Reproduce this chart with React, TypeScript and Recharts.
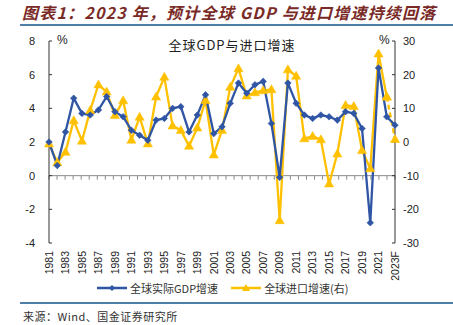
import React from 'react';
import { LineChart, Line, XAxis, YAxis, ReferenceLine } from 'recharts';

const years = [
  '1981', '1982', '1983', '1984', '1985', '1986', '1987', '1988', '1989', '1990',
  '1991', '1992', '1993', '1994', '1995', '1996', '1997', '1998', '1999', '2000',
  '2001', '2002', '2003', '2004', '2005', '2006', '2007', '2008', '2009', '2010',
  '2011', '2012', '2013', '2014', '2015', '2016', '2017', '2018', '2019', '2020',
  '2021', '2022', '2023F',
];

const gdpGrowth = [
  2.0, 0.6, 2.6, 4.6, 3.7, 3.6, 3.9, 4.7, 3.8, 3.5,
  2.7, 2.4, 2.1, 3.3, 3.4, 4.0, 4.1, 2.6, 3.6, 4.8,
  2.5, 2.9, 4.3, 5.5, 4.9, 5.4, 5.6, 3.1, -0.1, 5.5,
  4.3, 3.6, 3.4, 3.6, 3.5, 3.3, 3.8, 3.7, 2.8, -2.8,
  6.4, 3.5, 3.0,
];

const importGrowth = [
  -0.5, -6.1, -3.0, 6.4, 0.3, 9.4, 17.0, 14.9, 7.9, 12.3,
  0.6, 7.4, -0.5, 13.4, 19.3, 4.8, 3.5, -1.2, 4.2, 12.4,
  -3.8, 3.5, 16.3, 21.8, 13.7, 14.7, 15.3, 15.6, -23.3, 21.5,
  19.6, 1.0, 1.7, 0.7, -12.4, -3.5, 10.9, 10.6, -2.5, -7.9,
  26.2, 13.4, 0.8,
];

const forecastFrom = 41; // dashed segment starts at 2022
const leftTicks = [-4, -2, 0, 2, 4, 6, 8];
const rightTicks = [-30, -20, -10, 0, 10, 20, 30];

const BLUE = '#2F55A4';
const YELLOW = '#FFC000';
const TEXT = '#222';
const RULE = '#4F7FA8';
const FONT_LATIN = '"Liberation Sans", Arial, sans-serif';
const FONT_CJK = '"Noto Sans CJK SC", "Liberation Sans", sans-serif';

const data = years.map((year, i) => ({
  year,
  gdp: gdpGrowth[i],
  imp: i <= forecastFrom ? importGrowth[i] : null,
  impF: i >= forecastFrom ? importGrowth[i] : null,
}));

const Diamond = (props: any) => {
  const { cx, cy, index } = props;
  if (cx == null || cy == null) return <g key={`d${index}`} />;
  const s = 3.3;
  return (
    <path
      key={`d${index}`}
      d={`M${cx},${cy - s}L${cx + s},${cy}L${cx},${cy + s}L${cx - s},${cy}Z`}
      fill={BLUE}
      stroke={BLUE}
      strokeWidth={0.6}
    />
  );
};

const Triangle = (props: any) => {
  const { cx, cy, index } = props;
  if (cx == null || cy == null) return <g key={`t${index}`} />;
  const w = 4.6;
  const h = 8;
  return (
    <path
      key={`t${index}`}
      d={`M${cx},${cy - h * 0.6}L${cx + w},${cy + h * 0.4}L${cx - w},${cy + h * 0.4}Z`}
      fill={YELLOW}
      stroke={YELLOW}
      strokeWidth={0.5}
    />
  );
};

const XTick = (props: any) => {
  const { x, y, payload } = props;
  return (
    <text
      x={x}
      y={y}
      transform={`rotate(-90, ${x}, ${y})`}
      textAnchor="end"
      dy="0.36em"
      fontSize={10.5}
      fill={TEXT}
      fontFamily={FONT_LATIN}
    >
      {payload.value}
    </text>
  );
};

const ZeroAxis = (props: any) => {
  const { x1, x2, y1 } = props;
  if (x1 == null || x2 == null || y1 == null) return <g />;
  const n = years.length;
  const step = (x2 - x1) / n;
  return (
    <g>
      <line x1={x1} x2={x2} y1={y1} y2={y1} stroke="#8a8a8a" strokeWidth={1} />
      {Array.from({ length: n + 1 }, (_, k) => (
        <line
          key={k}
          x1={x1 + k * step}
          x2={x1 + k * step}
          y1={y1}
          y2={y1 + 4}
          stroke="#8a8a8a"
          strokeWidth={1}
        />
      ))}
    </g>
  );
};

const LegendItem = ({ color, marker, label }: { color: string; marker: 'diamond' | 'triangle'; label: string }) => (
  <div style={{ display: 'flex', alignItems: 'center' }}>
    <svg width={32} height={10} style={{ display: 'block' }}>
      <line x1={1} x2={31} y1={5} y2={5} stroke={color} strokeWidth={2.5} />
      {marker === 'diamond' ? (
        <path d="M16,2L19,5L16,8L13,5Z" fill={color} />
      ) : (
        <path d="M16,1L20,8L12,8Z" fill={color} />
      )}
    </svg>
    <span style={{ marginLeft: 2, fontSize: 11, color: '#333', fontFamily: FONT_CJK, whiteSpace: 'nowrap' }}>{label}</span>
  </div>
);

export default function App() {
  return (
    <div
      style={{
        position: 'absolute',
        left: 0,
        top: 0,
        width: 453,
        height: 325,
        background: '#fff',
        overflow: 'hidden',
      }}
    >
      <div
        style={{
          position: 'absolute',
          left: 22,
          top: 2,
          fontSize: 16,
          fontWeight: 'bold',
          fontStyle: 'italic',
          color: '#7A2A26',
          fontFamily: FONT_CJK,
          whiteSpace: 'nowrap',
          lineHeight: '20px',
          letterSpacing: 1.2,
        }}
      >
        图表1：2023 年，预计全球 GDP 与进口增速持续回落
      </div>
      <div style={{ position: 'absolute', left: 20, top: 24, width: 433, height: 2, background: RULE }} />

      <div style={{ position: 'absolute', left: 0, top: 0 }}>
        <LineChart
          width={453}
          height={325}
          data={data}
          margin={{ top: 41, right: 0, bottom: 0, left: 0 }}
        >
          <XAxis
            dataKey="year"
            xAxisId={0}
            interval={1}
            tick={<XTick />}
            tickLine={false}
            axisLine={false}
            tickSize={0}
            tickMargin={8}
            height={82}
          />
          <YAxis
            yAxisId="left"
            domain={[-4, 8]}
            ticks={leftTicks}
            width={49}
            axisLine={{ stroke: '#333', strokeWidth: 1 }}
            tickLine={{ stroke: '#333' }}
            tickSize={-3}
            tickMargin={17}
            tick={{ fontSize: 11, fill: TEXT, fontFamily: FONT_LATIN }}
            allowDataOverflow
          />
          <YAxis
            yAxisId="right"
            orientation="right"
            domain={[-30, 30]}
            ticks={rightTicks}
            width={58}
            axisLine={{ stroke: '#333', strokeWidth: 1 }}
            tickLine={{ stroke: '#333' }}
            tickSize={-3}
            tickMargin={11}
            tick={{ fontSize: 11, fill: TEXT, fontFamily: FONT_LATIN }}
            allowDataOverflow
          />
          <ReferenceLine yAxisId="left" y={0} shape={<ZeroAxis />} />
          <Line
            yAxisId="right"
            dataKey="imp"
            stroke={YELLOW}
            strokeWidth={2.3}
            dot={<Triangle />}
            activeDot={false}
            isAnimationActive={false}
            connectNulls={false}
          />
          <Line
            yAxisId="right"
            dataKey="impF"
            stroke={YELLOW}
            strokeWidth={2.3}
            strokeDasharray="5 3"
            dot={<Triangle />}
            activeDot={false}
            legendType="none"
            isAnimationActive={false}
          />
          <Line
            yAxisId="left"
            dataKey="gdp"
            stroke={BLUE}
            strokeWidth={2.3}
            dot={<Diamond />}
            activeDot={false}
            isAnimationActive={false}
          />
        </LineChart>
      </div>

      <div style={{ position: 'absolute', left: 57, top: 33, fontSize: 12, color: TEXT, fontFamily: FONT_LATIN }}>%</div>
      <div style={{ position: 'absolute', left: 379, top: 33, fontSize: 12, color: TEXT, fontFamily: FONT_LATIN }}>%</div>
      <div
        style={{
          position: 'absolute',
          left: 0,
          width: 464,
          top: 35,
          textAlign: 'center',
          fontSize: 13,
          color: TEXT,
          fontFamily: FONT_CJK,
          letterSpacing: 1,
        }}
      >
        全球GDP与进口增速
      </div>

      <div style={{ position: 'absolute', left: 96, top: 280, display: 'flex', gap: 12 }}>
        <LegendItem color={BLUE} marker="diamond" label="全球实际GDP增速" />
        <LegendItem color={YELLOW} marker="triangle" label="全球进口增速(右)" />
      </div>

      <div style={{ position: 'absolute', left: 20, top: 302, width: 433, height: 2, background: RULE }} />
      <div
        style={{
          position: 'absolute',
          left: 23,
          top: 308,
          fontSize: 11,
          color: '#333',
          fontFamily: FONT_CJK,
          whiteSpace: 'nowrap',
          letterSpacing: 0.5,
        }}
      >
        来源：Wind、国金证券研究所
      </div>
    </div>
  );
}
